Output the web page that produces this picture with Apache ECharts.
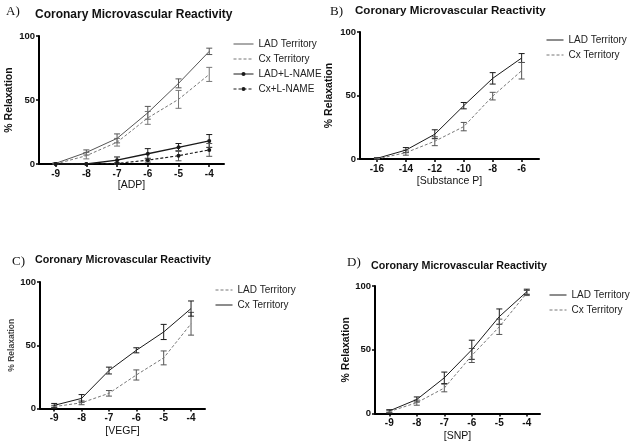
<!DOCTYPE html>
<html>
<head>
<meta charset="utf-8">
<script src="https://cdn.jsdelivr.net/npm/echarts@6/dist/echarts.min.js"></script>
<style>
html,body{margin:0;padding:0;background:#fff;}
#c{width:630px;height:445px;}
</style>
</head>
<body>
<div id="c"></div>
<script>
// ---- Data ----
const titleText = 'Coronary Microvascular Reactivity';
const panelLabels = ['A)', 'B)', 'C)', 'D)'];
const yTicks = [0, 50, 100];

// Panel A: ADP
const adpX = [-9, -8, -7, -6, -5, -4];
const adpLAD = [0.5, 9, 20, 40, 63, 88];
const adpLADErr = [0.5, 2, 3.5, 5, 3.5, 2.5];
const adpCx = [0, 6.5, 17, 36, 50.5, 70];
const adpCxErr = [0.5, 2.5, 3, 5, 7, 5.5];
const adpLADLN = [0, 0, 3, 8, 13, 18];
const adpLADLNErr = [0, 0, 2.5, 4, 3, 5];
const adpCxLN = [0, 0, 0.5, 3, 6.5, 11];
const adpCxLNErr = [0, 0, 0.5, 1.5, 4, 5];

// Panel B: Substance P
const spX = [-16, -14, -12, -10, -8, -6];
const spLAD = [0.5, 7, 19.5, 42, 63.5, 79.5];
const spLADErr = [0.5, 2, 3.5, 2.5, 4.5, 3.5];
const spCx = [0, 5, 14, 25.5, 49.5, 69.5];
const spCxErr = [0.5, 2, 3.5, 3.3, 3, 6.5];

// Panel C: VEGF
const vegfX = [-9, -8, -7, -6, -5, -4];
const vegfLAD = [1.5, 4.5, 12, 26.5, 40, 67];
const vegfLADErr = [1, 1.5, 2.2, 4, 5.5, 9];
const vegfCx = [2.5, 8, 30, 46, 60.5, 79];
const vegfCxErr = [1.5, 3, 2.7, 2, 6, 6];

// Panel D: SNP
const snpX = [-9, -8, -7, -6, -5, -4];
const snpLAD = [2, 11, 28, 50, 76, 95.5];
const snpLADErr = [1, 2, 4.5, 7.5, 6, 2];
const snpCx = [1.5, 8.5, 20, 45.5, 68, 94.5];
const snpCxErr = [1, 2, 3, 5.5, 6, 2];

const xTicksA = [-9, -8, -7, -6, -5, -4];
const xTicksB = [-16, -14, -12, -10, -8, -6];

// ---- Build ----
const FONT = 'Liberation Sans, Arial, sans-serif';
const pair = (xs, ys) => xs.map((x, i) => [x, ys[i]]);
const triple = (xs, ys, es) => xs.map((x, i) => [x, ys[i], es[i]]);

function errSeries(name, idx, xs, ys, es, color) {
  return {
    type: 'custom', name: name, xAxisIndex: idx, yAxisIndex: idx,
    data: triple(xs, ys, es), z: 3, silent: true,
    renderItem: function (params, api) {
      const x = api.value(0), y = api.value(1), e = api.value(2);
      if (!e) return null;
      const t = api.coord([x, Math.min(100, y + e)]);
      const b = api.coord([x, Math.max(0, y - e)]);
      const w = 3;
      const st = { stroke: color, lineWidth: 1 };
      return { type: 'group', children: [
        { type: 'line', shape: { x1: t[0], y1: t[1], x2: b[0], y2: b[1] }, style: st },
        { type: 'line', shape: { x1: t[0] - w, y1: t[1], x2: t[0] + w, y2: t[1] }, style: st },
        { type: 'line', shape: { x1: b[0] - w, y1: b[1], x2: b[0] + w, y2: b[1] }, style: st }
      ]};
    }
  };
}
function lineSeries(name, idx, xs, ys, color, dashed, marker, width) {
  return {
    type: 'line', name: name, xAxisIndex: idx, yAxisIndex: idx,
    data: pair(xs, ys), z: 4,
    symbol: marker ? 'circle' : 'none', symbolSize: 4, showSymbol: !!marker,
    itemStyle: { color: color },
    lineStyle: { color: color, width: width || 1, type: dashed ? [3, 2] : 'solid' }
  };
}

const grids = [
  { left: 39, top: 36, width: 185, height: 128 },
  { left: 360, top: 32, width: 179, height: 127 },
  { left: 40, top: 282, width: 165, height: 126.5 },
  { left: 375, top: 286, width: 165, height: 127.5 }
];
const xRanges = [[-9.54, -3.52], [-17.17, -4.8], [-9.52, -3.49], [-9.52, -3.52]];
const xNames = ['[ADP]', '[Substance P]', '[VEGF]', '[SNP]'];
const xNameGaps = [15, 17, 17, 17];
const yNameGaps = [24, 25, 23, 23];
const yNameSizes = [10.5, 10.5, 8.5, 10.5];

const xAxes = grids.map((g, i) => {
  const ticks = i === 1 ? xTicksB : xTicksA;
  return {
    type: 'value', gridIndex: i, min: xRanges[i][0], max: xRanges[i][1],
    name: xNames[i], nameLocation: 'middle', nameGap: xNameGaps[i],
    nameTextStyle: { fontFamily: FONT, fontSize: 10.5, color: '#111' },
    axisLine: { show: true, onZero: false, lineStyle: { color: '#000', width: 2 } },
    axisTick: { show: true, length: 3, customValues: ticks, lineStyle: { color: '#000', width: 1.5 } },
    axisLabel: { customValues: ticks, margin: 5, fontFamily: FONT, fontSize: 10, fontWeight: 'bold', color: '#111' },
    splitLine: { show: false }
  };
});
const yAxes = grids.map((g, i) => ({
  type: 'value', gridIndex: i, min: 0, max: 100, interval: 50,
  name: '% Relaxation', nameLocation: 'middle', nameRotate: 90, nameGap: yNameGaps[i],
  nameTextStyle: { fontFamily: FONT, fontSize: yNameSizes[i], fontWeight: 'bold', color: i === 2 ? '#444' : '#111' },
  axisLine: { show: true, lineStyle: { color: '#000', width: 2 } },
  axisTick: { show: true, length: 3, lineStyle: { color: '#000', width: 1.5 } },
  axisLabel: { margin: 4, fontFamily: FONT, fontSize: 9.5, fontWeight: 'bold', color: '#111', customValues: yTicks },
  splitLine: { show: false }
}));

const DARK = '#1a1a1a', MID = '#555', LIGHT = '#777';
const series = [
  lineSeries('A:LAD Territory', 0, adpX, adpLAD, MID, false),
  lineSeries('A:Cx Territory', 0, adpX, adpCx, LIGHT, true),
  lineSeries('A:LAD+L-NAME', 0, adpX, adpLADLN, DARK, false, true, 1.3),
  lineSeries('A:Cx+L-NAME', 0, adpX, adpCxLN, DARK, true, true, 1.1),
  errSeries('eA1', 0, adpX, adpLAD, adpLADErr, MID),
  errSeries('eA2', 0, adpX, adpCx, adpCxErr, LIGHT),
  errSeries('eA3', 0, adpX, adpLADLN, adpLADLNErr, DARK),
  errSeries('eA4', 0, adpX, adpCxLN, adpCxLNErr, MID),

  lineSeries('B:LAD Territory', 1, spX, spLAD, DARK, false),
  lineSeries('B:Cx Territory', 1, spX, spCx, LIGHT, true),
  errSeries('eB1', 1, spX, spLAD, spLADErr, DARK),
  errSeries('eB2', 1, spX, spCx, spCxErr, MID),

  lineSeries('C:LAD Territory', 2, vegfX, vegfLAD, LIGHT, true),
  lineSeries('C:Cx Territory', 2, vegfX, vegfCx, DARK, false),
  errSeries('eC1', 2, vegfX, vegfLAD, vegfLADErr, MID),
  errSeries('eC2', 2, vegfX, vegfCx, vegfCxErr, DARK),

  lineSeries('D:LAD Territory', 3, snpX, snpLAD, DARK, false),
  lineSeries('D:Cx Territory', 3, snpX, snpCx, LIGHT, true),
  errSeries('eD1', 3, snpX, snpLAD, snpLADErr, DARK),
  errSeries('eD2', 3, snpX, snpCx, snpCxErr, MID)
];

// legend entries; names without L-NAME have no marker -> hide legend symbol
function legendItem(n) {
  return n.indexOf('L-NAME') >= 0 ? { name: n } : { name: n, itemStyle: { opacity: 0 } };
}
function legend(names, left, top, w) {
  return {
    orient: 'vertical', left: left, top: top, itemWidth: w, itemHeight: 5, itemGap: 3,
    padding: 0, selectedMode: false, data: names.map(legendItem),
    formatter: n => n.slice(2),
    lineStyle: { width: 1 },
    textStyle: { fontFamily: FONT, fontSize: 10, color: '#222', lineHeight: 12 }
  };
}

const titles = [
  { text: titleText, left: 35, top: 9, size: 12 },
  { text: titleText, left: 355, top: 5, size: 11.6 },
  { text: titleText, left: 35, top: 255, size: 10.7 },
  { text: titleText, left: 371, top: 261, size: 10.7 }
].map(t => ({ text: t.text, left: t.left, top: t.top, padding: 0,
  textStyle: { fontFamily: FONT, fontSize: t.size, fontWeight: 'bold', color: '#111' } }));

const labelPos = [[6, 12], [330, 12], [12, 262], [347, 263]];
const graphic = panelLabels.map((s, i) => ({
  type: 'text', x: labelPos[i][0], y: labelPos[i][1],
  style: { text: s, fontFamily: 'Liberation Serif, Times New Roman, serif', fontSize: 13,
    fill: '#111', textVerticalAlign: 'middle', textAlign: 'left' }
}));

const chart = echarts.init(document.getElementById('c'), null, { renderer: 'canvas' });
chart.setOption({
  animation: false,
  backgroundColor: '#fff',
  title: titles,
  grid: grids,
  xAxis: xAxes,
  yAxis: yAxes,
  legend: [
    legend(['A:LAD Territory', 'A:Cx Territory', 'A:LAD+L-NAME', 'A:Cx+L-NAME'], 233, 38, 20),
    legend(['B:LAD Territory', 'B:Cx Territory'], 546, 34, 17),
    legend(['C:LAD Territory', 'C:Cx Territory'], 215, 284, 17),
    legend(['D:LAD Territory', 'D:Cx Territory'], 549, 289, 17)
  ],
  graphic: graphic,
  series: series
});
</script>
</body>
</html>
